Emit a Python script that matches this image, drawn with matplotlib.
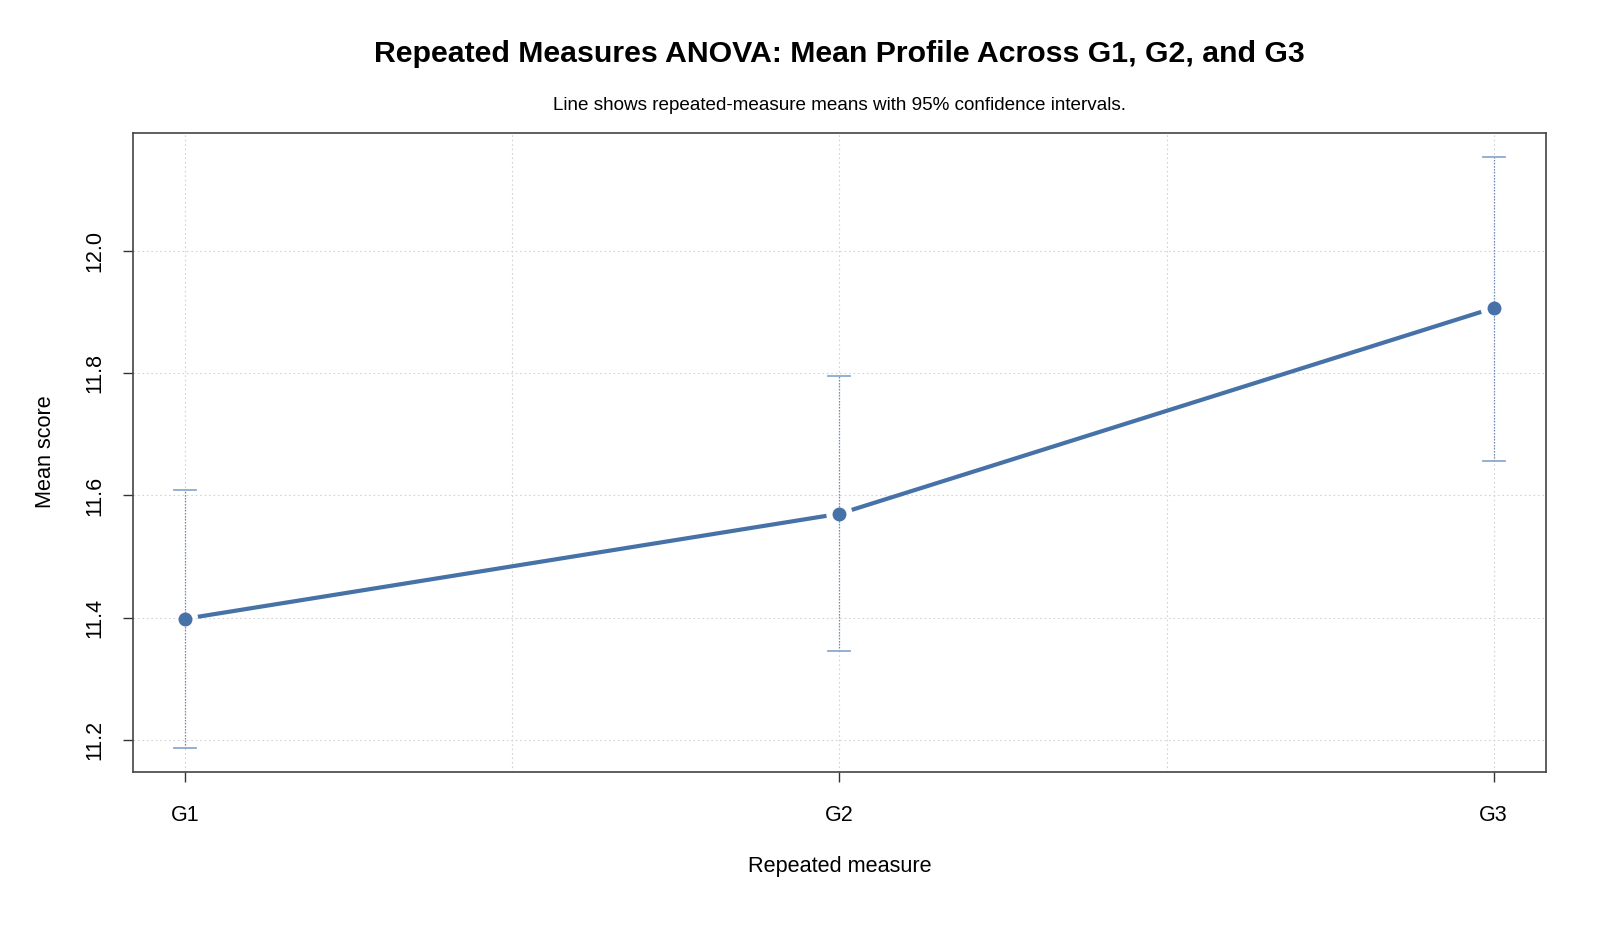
import matplotlib.pyplot as plt
import numpy as np

plt.rcParams['font.family'] = ['Liberation Sans', 'DejaVu Sans']

# data
groups = ['G1', 'G2', 'G3']
means = [11.398, 11.570, 11.907]
ci_low = [11.187, 11.345, 11.657]
ci_high = [11.609, 11.795, 12.155]

line_col = '#4672A8'
bar_col = '#6F90BA'
cap_col = '#8EA9CB'

fig = plt.figure(figsize=(16, 9.33), dpi=100)
left, right, top, bottom = 132.7, 1546, 132.7, 771.5
ax = fig.add_axes([left / 1600, 1 - bottom / 933, (right - left) / 1600, (bottom - top) / 933])

x = np.arange(1, len(groups) + 1)
ax.set_xlim(0.92, 3.08)
ax.set_ylim(11.148, 12.194)

# grid like R's grid()
for gx in [1, 1.5, 2, 2.5, 3]:
    ax.axvline(gx, color='#D3D3D3', lw=0.8, ls=(0, (1.5, 2.5)), zorder=0)
for gy in np.arange(11.2, 12.01, 0.2):
    ax.axhline(gy, color='#D3D3D3', lw=0.8, ls=(0, (1.5, 2.5)), zorder=0)

# confidence intervals
hw = 0.017
for xi, lo, hi in zip(x, ci_low, ci_high):
    ax.plot([xi, xi], [lo, hi], color=bar_col, lw=0.9, ls=(0, (1.2, 1.2)), zorder=2)
    ax.plot([xi - hw, xi + hw], [lo, lo], color=cap_col, lw=1.3, zorder=2)
    ax.plot([xi - hw, xi + hw], [hi, hi], color=cap_col, lw=1.3, zorder=2)

# type="b" line: segments with gaps around points
fig.canvas.draw()
pts = ax.transData.transform(np.column_stack([x, means]))
gap = 13
inv = ax.transData.inverted()
for i in range(len(x) - 1):
    p0, p1 = pts[i], pts[i + 1]
    d = p1 - p0
    u = d / np.hypot(*d)
    a = inv.transform(p0 + u * gap)
    b = inv.transform(p1 - u * gap)
    ax.plot([a[0], b[0]], [a[1], b[1]], color=line_col, lw=3.0, solid_capstyle='butt', zorder=3)

ax.plot(x, means, 'o', color=line_col, ms=9, mec=line_col, zorder=4)

ax.set_xticks(x)
ax.set_xticklabels(groups, fontsize=15.5)
ax.set_yticks([11.2, 11.4, 11.6, 11.8, 12.0])
ax.set_yticklabels(['11.2', '11.4', '11.6', '11.8', '12.0'], fontsize=15.5, rotation=90, va='center')
ax.tick_params(axis='x', direction='out', length=7, width=1, color='#333333', pad=17)
ax.tick_params(axis='y', direction='out', length=7, width=1, color='#333333', pad=13)
for s in ax.spines.values():
    s.set_color('#444444')
    s.set_linewidth(1.2)

ax.set_xlabel('Repeated measure', fontsize=15.6, labelpad=22)
ax.set_ylabel('Mean score', fontsize=15.6, labelpad=20)

cx = (left + right) / 2 / 1600
fig.text(cx, 1 - 54 / 933, 'Repeated Measures ANOVA: Mean Profile Across G1, G2, and G3',
         ha='center', va='center', fontsize=21.8, fontweight='bold')
fig.text(cx, 1 - 106 / 933, 'Line shows repeated-measure means with 95% confidence intervals.',
         ha='center', va='center', fontsize=13.6)

fig.savefig('out.png', dpi=100)
